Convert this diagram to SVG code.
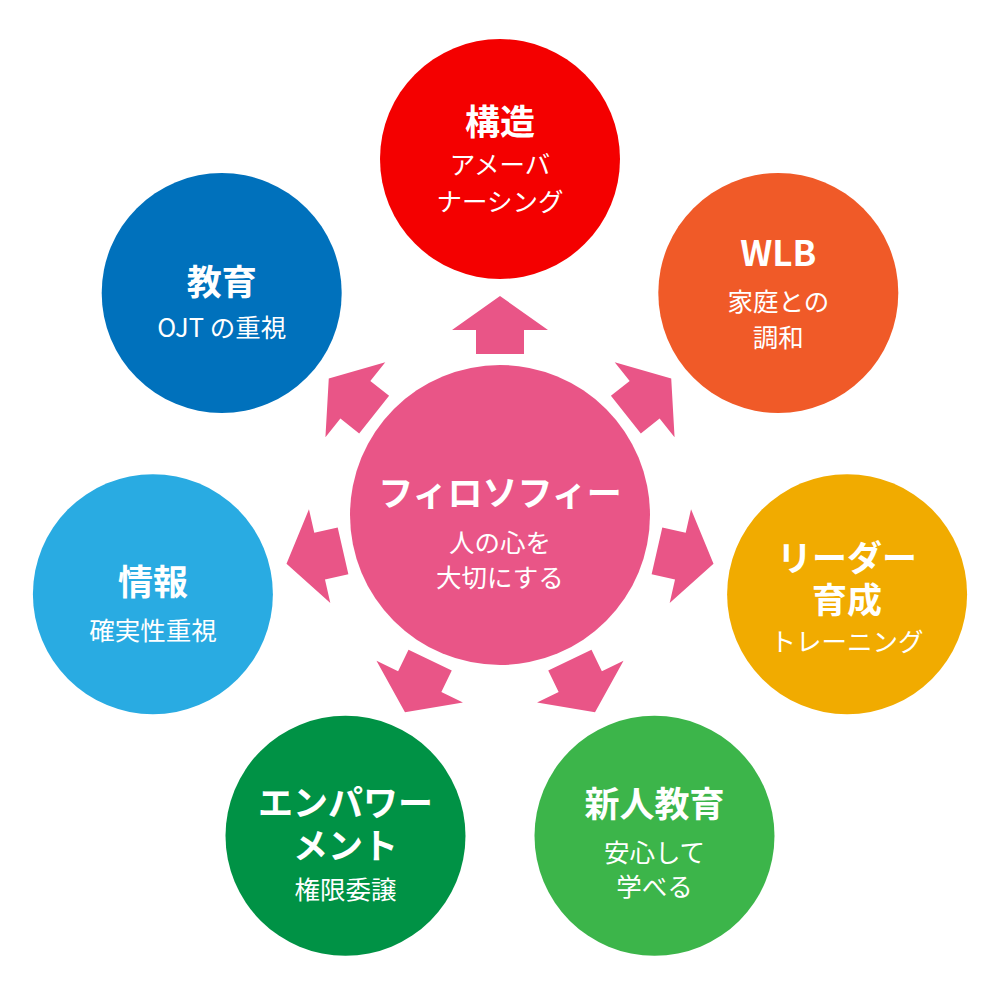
<svg xmlns="http://www.w3.org/2000/svg" width="1000" height="1000" viewBox="0 0 1000 1000">
<style>
.t{font-family:"Noto Sans CJK JP","Noto Sans",sans-serif;font-weight:bold;font-size:35px;fill:#fff;text-anchor:middle}
.s{font-family:"Noto Sans CJK JP","Noto Sans",sans-serif;font-weight:normal;font-size:25.5px;fill:#fff;text-anchor:middle}
.ar{fill:#E95587}
</style>
<defs>
<path id="arrow" d="M0,-219 L48,-185 L24,-185 L24,-161 L-24,-161 L-24,-185 L-48,-185 Z"/>
</defs>
<rect width="1000" height="1000" fill="#fff"/>
<g id="connectors" class="ar" transform="translate(500,515)">
<use href="#arrow"/>
<use href="#arrow" transform="rotate(51.4286)"/>
<use href="#arrow" transform="rotate(102.857)"/>
<use href="#arrow" transform="rotate(154.286)"/>
<use href="#arrow" transform="rotate(205.714)"/>
<use href="#arrow" transform="rotate(257.143)"/>
<use href="#arrow" transform="rotate(308.571)"/>
</g>
<g id="center">
<circle cx="500" cy="515" r="150" fill="#E95587"/>
<text class="t" x="500" y="506">フィロソフィー</text>
<text class="s" x="500" y="552">人の心を</text>
<text class="s" x="500" y="587">大切にする</text>
</g>
<g id="kozo">
<circle cx="500" cy="159" r="120" fill="#F40000"/>
<text class="t" x="500" y="135">構造</text>
<text class="s" x="500" y="174">アメーバ</text>
<text class="s" x="500" y="211">ナーシング</text>
</g>
<g id="wlb">
<circle cx="778.3" cy="293" r="120" fill="#F05A28"/>
<text class="t" x="778.3" y="266">WLB</text>
<text class="s" x="778.3" y="311">家庭との</text>
<text class="s" x="778.3" y="347">調和</text>
</g>
<g id="leader">
<circle cx="847.1" cy="594.2" r="120" fill="#F1AB00"/>
<text class="t" x="847.1" y="571">リーダー</text>
<text class="t" x="847.1" y="613">育成</text>
<text class="s" x="847.1" y="651">トレーニング</text>
</g>
<g id="shinjin">
<circle cx="654.5" cy="835.8" r="120" fill="#3CB54A"/>
<text class="t" x="654.5" y="817">新人教育</text>
<text class="s" x="654.5" y="862">安心して</text>
<text class="s" x="654.5" y="896">学べる</text>
</g>
<g id="empower">
<circle cx="345.5" cy="835.8" r="120" fill="#009245"/>
<text class="t" x="345.5" y="816">エンパワー</text>
<text class="t" x="345.5" y="859">メント</text>
<text class="s" x="345.5" y="899">権限委譲</text>
</g>
<g id="joho">
<circle cx="152.9" cy="594.2" r="120" fill="#29ABE2"/>
<text class="t" x="152.9" y="595">情報</text>
<text class="s" x="152.9" y="640">確実性重視</text>
</g>
<g id="kyoiku">
<circle cx="221.7" cy="293" r="120" fill="#0071BC"/>
<text class="t" x="221.7" y="295">教育</text>
<text class="s" x="221.7" y="337">OJT の重視</text>
</g>
</svg>
